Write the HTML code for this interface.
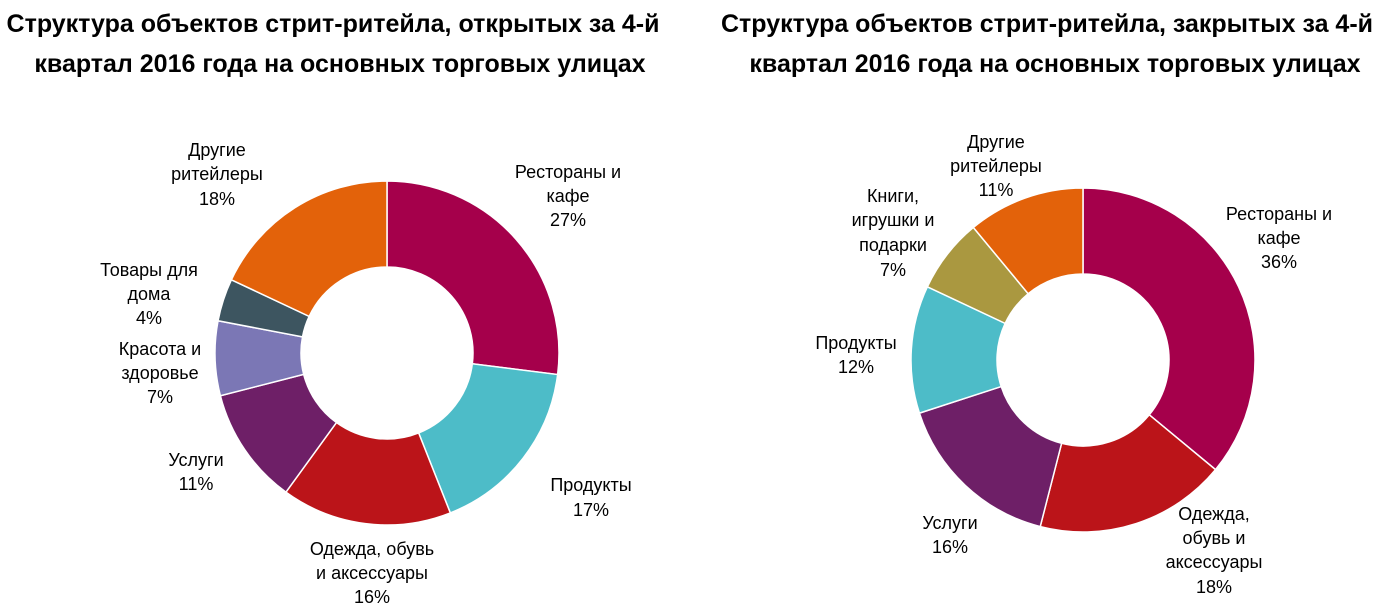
<!DOCTYPE html>
<html><head><meta charset="utf-8"><style>
html,body{margin:0;padding:0;background:#fff;width:1386px;height:606px;overflow:hidden}
svg text{font-family:"Liberation Sans Narrow","Liberation Sans",sans-serif;fill:#000}
.t{font-weight:bold;font-size:25px}
.l{font-size:18px}
</style></head><body>
<svg id="s" width="1386" height="606" xmlns="http://www.w3.org/2000/svg">
<text class="t" x="333" y="32" text-anchor="middle">Структура объектов стрит-ритейла, открытых за 4-й</text>
<text class="t" x="340" y="72" text-anchor="middle">квартал 2016 года на основных торговых улицах</text>
<text class="t" x="1047" y="32" text-anchor="middle">Структура объектов стрит-ритейла, закрытых за 4-й</text>
<text class="t" x="1055" y="72" text-anchor="middle">квартал 2016 года на основных торговых улицах</text>
<g id="g"></g>
<g class="l">
<text x="568" y="178" text-anchor="middle">Рестораны и</text><text x="568" y="202" text-anchor="middle">кафе</text><text x="568" y="226" text-anchor="middle">27%</text>
<text x="591" y="491" text-anchor="middle">Продукты</text><text x="591" y="516" text-anchor="middle">17%</text>
<text x="372" y="555" text-anchor="middle">Одежда, обувь</text><text x="372" y="579" text-anchor="middle">и аксессуары</text><text x="372" y="603" text-anchor="middle">16%</text>
<text x="196" y="466" text-anchor="middle">Услуги</text><text x="196" y="490" text-anchor="middle">11%</text>
<text x="160" y="355" text-anchor="middle">Красота и</text><text x="160" y="379" text-anchor="middle">здоровье</text><text x="160" y="403" text-anchor="middle">7%</text>
<text x="149" y="276" text-anchor="middle">Товары для</text><text x="149" y="300" text-anchor="middle">дома</text><text x="149" y="324" text-anchor="middle">4%</text>
<text x="217" y="156" text-anchor="middle">Другие</text><text x="217" y="180" text-anchor="middle">ритейлеры</text><text x="217" y="205" text-anchor="middle">18%</text>
<text x="1279" y="220" text-anchor="middle">Рестораны и</text><text x="1279" y="244" text-anchor="middle">кафе</text><text x="1279" y="268" text-anchor="middle">36%</text>
<text x="1214" y="520" text-anchor="middle">Одежда,</text><text x="1214" y="544" text-anchor="middle">обувь и</text><text x="1214" y="568" text-anchor="middle">аксессуары</text><text x="1214" y="593" text-anchor="middle">18%</text>
<text x="950" y="529" text-anchor="middle">Услуги</text><text x="950" y="553" text-anchor="middle">16%</text>
<text x="856" y="349" text-anchor="middle">Продукты</text><text x="856" y="373" text-anchor="middle">12%</text>
<text x="893" y="202" text-anchor="middle">Книги,</text><text x="893" y="226" text-anchor="middle">игрушки и</text><text x="893" y="251" text-anchor="middle">подарки</text><text x="893" y="276" text-anchor="middle">7%</text>
<text x="996" y="148" text-anchor="middle">Другие</text><text x="996" y="172" text-anchor="middle">ритейлеры</text><text x="996" y="196" text-anchor="middle">11%</text>
</g>
</svg>
<script>
function donut(cx,cy,R,r,data){
 var g=document.getElementById('g'),a=0,h='';
 data.forEach(function(d){
  var a0=a/100*2*Math.PI,a1=(a+d[0])/100*2*Math.PI;a+=d[0];
  function p(rr,t){return (cx+rr*Math.sin(t)).toFixed(2)+','+(cy-rr*Math.cos(t)).toFixed(2);}
  var lg=d[0]>50?1:0;
  h+='<path d="M'+p(R,a0)+'A'+R+','+R+' 0 '+lg+' 1 '+p(R,a1)+'L'+p(r,a1)+'A'+r+','+r+' 0 '+lg+' 0 '+p(r,a0)+'Z" fill="'+d[1]+'" stroke="#fff" stroke-width="1.5"/>';
 });
 g.insertAdjacentHTML('beforeend',h);
}
donut(387,353,172,86,[[27,'#A5004B'],[17,'#4DBCC8'],[16,'#BB1419'],[11,'#6E1F67'],[7,'#7B77B5'],[4,'#3D5560'],[18,'#E3620A']]);
donut(1083,360,172,86,[[36,'#A5004B'],[18,'#BB1419'],[16,'#6E1F67'],[12,'#4DBCC8'],[7,'#AA9840'],[11,'#E3620A']]);
</script>
</body></html>
